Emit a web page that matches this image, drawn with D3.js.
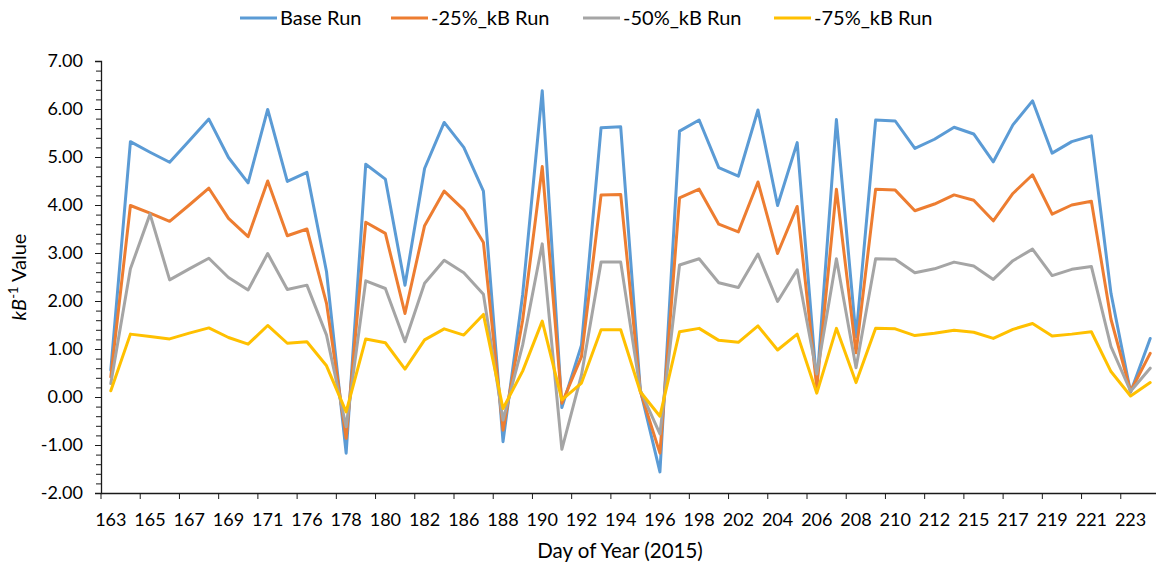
<!DOCTYPE html>
<html>
<head>
<meta charset="utf-8">
<script src="https://cdn.jsdelivr.net/npm/d3@7"></script>
<style>
  html, body { margin: 0; padding: 0; background: #fff; }
  svg { display: block; font-family: Lato, "Open Sans", sans-serif; }
</style>
</head>
<body>
<svg id="chart" width="1156" height="566"></svg>
<script>
// Day of year for each sample (every other day is labelled on the axis)
const days = [
  "163","164","165","166","167","168","169","170","171","175",
  "176","177","178","179","180","181","182","185","186","187",
  "188","189","190","191","192","193","194","195","196","197",
  "198","201","202","203","204","205","206","207","208","209",
  "210","211","212","214","215","216","217","218","219","220",
  "221","222","223","224"
];

const baseRun = [
  0.56, 5.32, 5.10, 4.89, 5.34, 5.79, 4.99, 4.46, 5.99, 4.49,
  4.68, 2.61, -1.17, 4.85, 4.54, 2.33, 4.76, 5.72, 5.20, 4.29,
  -0.93, 2.13, 6.38, -0.22, 1.08, 5.61, 5.63, 0.15, -1.56, 5.54,
  5.77, 4.78, 4.60, 5.98, 3.99, 5.30, 0.25, 5.78, 1.25, 5.77,
  5.75, 5.18, 5.37, 5.62, 5.48, 4.90, 5.67, 6.17, 5.08, 5.32,
  5.44, 2.16, 0.10, 1.22
];

const minus25Run = [
  0.42, 3.99, 3.83, 3.66, 4.00, 4.35, 3.72, 3.34, 4.50, 3.36,
  3.50, 1.95, -0.86, 3.64, 3.41, 1.74, 3.57, 4.29, 3.90, 3.22,
  -0.69, 1.60, 4.80, -0.13, 0.84, 4.21, 4.22, 0.12, -1.17, 4.15,
  4.33, 3.60, 3.44, 4.48, 2.99, 3.97, 0.20, 4.33, 0.92, 4.33,
  4.31, 3.88, 4.02, 4.21, 4.10, 3.67, 4.24, 4.63, 3.81, 4.00,
  4.08, 1.62, 0.12, 0.91
];

const minus50Run = [
  0.28, 2.67, 3.81, 2.44, 2.67, 2.89, 2.49, 2.23, 2.99, 2.24,
  2.33, 1.29, -0.62, 2.42, 2.26, 1.15, 2.37, 2.85, 2.59, 2.14,
  -0.48, 1.08, 3.19, -1.09, 0.46, 2.81, 2.81, 0.14, -0.77, 2.75,
  2.88, 2.38, 2.28, 2.98, 1.99, 2.65, 0.48, 2.88, 0.61, 2.88,
  2.87, 2.59, 2.67, 2.81, 2.73, 2.45, 2.84, 3.08, 2.53, 2.66,
  2.72, 1.05, 0.12, 0.60
];

const minus75Run = [
  0.13, 1.31, 1.26, 1.21, 1.33, 1.44, 1.24, 1.10, 1.49, 1.12,
  1.15, 0.65, -0.31, 1.21, 1.13, 0.58, 1.19, 1.42, 1.29, 1.72,
  -0.24, 0.54, 1.58, -0.06, 0.29, 1.40, 1.40, 0.11, -0.40, 1.36,
  1.43, 1.18, 1.14, 1.48, 0.98, 1.31, 0.08, 1.43, 0.30, 1.43,
  1.42, 1.28, 1.33, 1.39, 1.35, 1.22, 1.41, 1.53, 1.27, 1.31,
  1.36, 0.53, 0.02, 0.30
];

const seriesNames = ["Base Run", "-25%_kB Run", "-50%_kB Run", "-75%_kB Run"];
const seriesColors = ["#5B9BD5", "#ED7D31", "#A5A5A5", "#FFC000"];
const yTicks = [-2, -1, 0, 1, 2, 3, 4, 5, 6, 7];

const series = [baseRun, minus25Run, minus50Run, minus75Run].map((vals, k) => ({
  name: seriesNames[k], color: seriesColors[k], values: vals
}));

const svg = d3.select("#chart");
const plot = { left: 101, right: 1160, top: 61, bottom: 493 };

const x = d3.scaleBand().domain(days).range([plot.left, plot.right]).padding(0);
const y = d3.scaleLinear().domain([-2, 7]).range([plot.bottom, plot.top]);
const cx = d => x(d) + x.bandwidth() / 2;

const axisColor = "#1a1a1a";
const textColor = "#000";
const fmt = v => d3.format(".2f")(v).replace("\u2212", "-");

// Y axis: major ticks with labels plus minor ticks every 0.2
const minorTicks = d3.range(-2, 7.0001, 0.2).map(v => +v.toFixed(2));
svg.append("g")
  .attr("transform", `translate(${plot.left},0)`)
  .call(d3.axisLeft(y).tickValues(minorTicks).tickSize(5).tickFormat(""))
  .call(g => g.select(".domain").remove())
  .call(g => g.selectAll("line").attr("stroke", axisColor).attr("stroke-width", 1));

const yAxis = svg.append("g")
  .attr("transform", `translate(${plot.left},0)`)
  .call(d3.axisLeft(y).tickValues(yTicks).tickSize(6).tickPadding(12).tickFormat(fmt));
yAxis.select(".domain").attr("stroke", axisColor).attr("stroke-width", 1.3);
yAxis.selectAll("line").attr("stroke", axisColor);
yAxis.selectAll("text").attr("fill", textColor).style("font-size", "18px")
  .style("font-family", "Lato, sans-serif");

// X axis: line along y = -2, tick marks every two categories, labels on the first of each pair
const labelled = days.filter((d, i) => i % 2 === 0);
const xAxis = svg.append("g")
  .attr("transform", `translate(0,${plot.bottom})`)
  .call(d3.axisBottom(x).tickValues(labelled).tickSize(0).tickPadding(20));
xAxis.select(".domain").attr("stroke", axisColor).attr("stroke-width", 1.3);
xAxis.selectAll("text").attr("fill", textColor).style("font-size", "18px")
  .style("font-family", "Lato, sans-serif");

svg.append("g").selectAll("line")
  .data(labelled)
  .join("line")
  .attr("x1", d => x(d)).attr("x2", d => x(d))
  .attr("y1", plot.bottom).attr("y2", plot.bottom + 6)
  .attr("stroke", axisColor).attr("stroke-width", 1);

// Series lines
const line = d3.line().x((v, i) => cx(days[i])).y(v => y(v));
svg.append("g").selectAll("path")
  .data(series)
  .join("path")
  .attr("d", s => line(s.values))
  .attr("fill", "none")
  .attr("stroke", s => s.color)
  .attr("stroke-width", 3)
  .attr("stroke-linejoin", "round")
  .attr("stroke-linecap", "round");

// Axis titles
svg.append("text")
  .attr("x", 620).attr("y", 558)
  .attr("text-anchor", "middle")
  .attr("fill", textColor)
  .style("font-size", "20.5px")
  .text("Day of Year (2015)");

const yTitle = svg.append("text")
  .attr("transform", `translate(26,${(plot.top + plot.bottom) / 2}) rotate(-90)`)
  .attr("text-anchor", "middle")
  .attr("fill", textColor)
  .style("font-size", "20px");
yTitle.append("tspan").style("font-style", "italic").text("kB");
yTitle.append("tspan").attr("dy", -8).style("font-size", "13px").text("-1");
yTitle.append("tspan").attr("dy", 8).text(" Value");

// Legend
const legendX = [240, 391, 583, 774];
const legend = svg.append("g").selectAll("g")
  .data(series)
  .join("g")
  .attr("transform", (s, i) => `translate(${legendX[i]},18)`);
legend.append("line")
  .attr("x1", 0).attr("x2", 37).attr("y1", 0).attr("y2", 0)
  .attr("stroke", s => s.color).attr("stroke-width", 3);
legend.append("text")
  .attr("x", 40).attr("y", 0).attr("dy", "0.35em")
  .attr("fill", textColor)
  .style("font-size", "20px")
  .text(s => s.name);
</script>
</body>
</html>
